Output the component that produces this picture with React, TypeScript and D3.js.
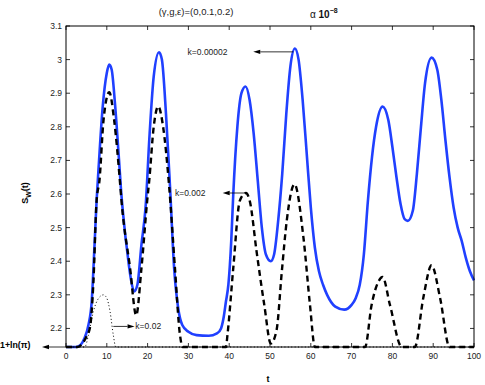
import * as d3 from "d3";

const BASE = 1 + Math.log(Math.PI);

// k = 0.00002 (solid blue)
const seriesSlow: [number, number][] = [
  [0, BASE], [2.5, BASE], [3.5, 2.15], [4.5, 2.17], [5.5, 2.21], [6.3, 2.28],
  [7, 2.45], [7.5, 2.58], [8, 2.68], [9, 2.86], [10, 2.96], [10.6, 2.985],
  [11.2, 2.97], [12, 2.87], [13, 2.7], [13.5, 2.61], [14, 2.54], [14.5, 2.48],
  [15, 2.43], [15.5, 2.38], [16, 2.34], [16.7, 2.31], [17.5, 2.33],
  [18.5, 2.45], [19.5, 2.56], [20.5, 2.78], [21.5, 2.95], [22.8, 3.022],
  [23.5, 3.0], [24.5, 2.84], [25.5, 2.62], [26.5, 2.38], [27.5, 2.26],
  [28.5, 2.21], [30, 2.19], [32, 2.18], [35, 2.178], [37, 2.185], [38, 2.2],
  [38.6, 2.23], [39.2, 2.28], [39.8, 2.33], [40.5, 2.46], [41, 2.6], [42, 2.8],
  [43, 2.9], [44, 2.92], [45, 2.88], [46, 2.78], [47, 2.64], [48, 2.5],
  [49, 2.42], [50.2, 2.4], [51, 2.42], [52, 2.52], [53, 2.66], [54, 2.84],
  [55, 2.98], [56.1, 3.033], [57, 3.0], [58, 2.88], [59, 2.72], [60, 2.56],
  [61, 2.44], [62, 2.37], [63, 2.33], [64, 2.3], [66, 2.265], [68.2, 2.256],
  [70, 2.27], [71, 2.29], [72, 2.33], [73, 2.42], [74, 2.58], [75, 2.71],
  [76, 2.8], [77.6, 2.86], [79, 2.82], [80, 2.74], [81, 2.65], [82, 2.57],
  [83, 2.525], [83.8, 2.52], [85, 2.55], [86, 2.66], [87, 2.8], [88, 2.93],
  [89.6, 3.006], [91, 2.97], [92, 2.88], [93, 2.76], [94, 2.65], [95, 2.56],
  [96, 2.5], [97, 2.46], [98, 2.41], [99, 2.37], [100, 2.343],
];

// k = 0.002 (dashed black)
const seriesMid: [number, number][] = [
  [0, BASE], [2.8, BASE], [4, 2.155], [5, 2.175], [5.9, 2.204], [6.7, 2.333],
  [7.5, 2.58], [8.2, 2.64], [9.2, 2.82], [10.6, 2.903], [11.8, 2.82],
  [13.2, 2.64], [13.6, 2.58], [15.7, 2.38], [17.2, 2.239], [18.5, 2.38],
  [19.9, 2.58], [20.4, 2.64], [21.5, 2.8], [22.6, 2.861], [23.8, 2.8],
  [25.3, 2.62], [26.7, 2.38], [27.9, 2.184], [28.6, BASE], [39.2, BASE],
  [39.6, 2.184], [41, 2.38], [42.6, 2.58], [44.1, 2.603], [45.1, 2.576],
  [46.7, 2.43], [48.6, 2.27], [50.2, 2.155], [51.6, 2.194], [52.9, 2.37],
  [54.1, 2.52], [56, 2.629], [58.2, 2.47], [59.8, 2.27], [61, BASE],
  [73.3, BASE], [74.9, 2.27], [76.6, 2.34], [77.6, 2.353], [79.4, 2.27],
  [82.3, BASE], [85.5, BASE], [87.6, 2.293], [89.6, 2.388], [91.7, 2.29],
  [94, BASE], [100, BASE],
];

// k = 0.02 (dotted black)
const seriesFast: [number, number][] = [
  [0, BASE], [4.6, BASE], [5.5, 2.18], [6.7, 2.25], [8, 2.29], [9.2, 2.3],
  [10, 2.29], [10.8, 2.25], [11.6, 2.18], [12.2, BASE], [100, BASE],
];

const xTicks = [0, 10, 20, 30, 40, 50, 60, 70, 80, 90, 100];
const yTicks = [2.2, 2.3, 2.4, 2.5, 2.6, 2.7, 2.8, 2.9, 3.0, 3.1];

const W = 485;
const H = 385;
const M = { left: 66, right: 11, top: 26, bottom: 38 };
const FONT = "'Liberation Sans', Arial, Helvetica, sans-serif";

function Arrow({ x1, y1, x2, y2 }: { x1: number; y1: number; x2: number; y2: number }) {
  const dir = Math.sign(x2 - x1);
  const head = 7;
  return (
    <g>
      <line x1={x1} y1={y1} x2={x2 - dir * head} y2={y2} stroke="#000" strokeWidth={0.8} />
      <path
        d={`M${x2},${y2} L${x2 - dir * head},${y2 - 2.2} L${x2 - dir * head},${y2 + 2.2} Z`}
        fill="#000"
      />
    </g>
  );
}

export default function App() {
  const x = d3.scaleLinear().domain([0, 100]).range([M.left, W - M.right]);
  const y = d3.scaleLinear().domain([BASE, 3.1]).range([H - M.bottom, M.top]);

  const line = d3
    .line<[number, number]>()
    .x((d) => x(d[0]))
    .y((d) => y(d[1]))
    .curve(d3.curveMonotoneX);

  const x0 = M.left;
  const x1 = W - M.right;
  const y0 = H - M.bottom;
  const y1 = M.top;

  return (
    <svg
      width={W}
      height={H}
      style={{ position: "absolute", left: 0, top: 0, background: "#fff" }}
      fontFamily={FONT}
    >
      <rect x={0} y={0} width={W} height={H} fill="#fff" />

      {/* curves */}
      <path d={line(seriesSlow) ?? ""} fill="none" stroke="#2040ff" strokeWidth={2.6} />
      <path
        d={line(seriesMid) ?? ""}
        fill="none"
        stroke="#000"
        strokeWidth={2.4}
        strokeDasharray="6,4"
      />
      <path
        d={line(seriesFast) ?? ""}
        fill="none"
        stroke="#000"
        strokeWidth={1}
        strokeDasharray="1,2.4"
      />

      {/* frame */}
      <rect x={x0} y={y1} width={x1 - x0} height={y0 - y1} fill="none" stroke="#000" strokeWidth={1} />

      {xTicks.map((t) => (
        <g key={`x${t}`}>
          <line x1={x(t)} x2={x(t)} y1={y0} y2={y0 - 4} stroke="#000" strokeWidth={0.8} />
          <line x1={x(t)} x2={x(t)} y1={y1} y2={y1 + 4} stroke="#000" strokeWidth={0.8} />
          <text x={x(t)} y={y0 + 12} fontSize={8.5} textAnchor="middle" fill="#222">
            {t}
          </text>
        </g>
      ))}

      {yTicks.map((v) => (
        <g key={`y${v}`}>
          <line x1={x0} x2={x0 + 4} y1={y(v)} y2={y(v)} stroke="#000" strokeWidth={0.8} />
          <line x1={x1} x2={x1 - 4} y1={y(v)} y2={y(v)} stroke="#000" strokeWidth={0.8} />
          <text x={x0 - 4} y={y(v) + 3} fontSize={8.5} textAnchor="end" fill="#222">
            {String(+v.toFixed(1))}
          </text>
        </g>
      ))}

      {/* axis titles */}
      <text x={268} y={382} fontSize={9} fontWeight="bold" textAnchor="middle">
        t
      </text>
      <text
        transform={`translate(28,193) rotate(-90)`}
        fontSize={9}
        fontWeight="bold"
        textAnchor="middle"
      >
        S<tspan fontSize={7} dy={2.5}>W</tspan>
        <tspan dy={-2.5}>(t)</tspan>
      </text>

      {/* titles */}
      <text x={196} y={15} fontSize={9.5} textAnchor="middle" fill="#222">
        (γ,g,ε)=(0,0.1,0.2)
      </text>
      <text x={310} y={18} fontSize={10} fill="#111">
        <tspan>α </tspan>
        <tspan fontWeight="bold">10</tspan>
        <tspan fontWeight="bold" fontSize={7} dy={-5}>
          −8
        </tspan>
      </text>

      {/* annotations */}
      <text x={x(29.8)} y={y(3.023) + 3} fontSize={8.5} fill="#222">
        k=0.00002
      </text>
      <Arrow x1={x(55.7)} y1={y(3.023)} x2={x(45.9)} y2={y(3.023)} />

      <text x={x(26.7)} y={y(2.603) + 3} fontSize={8.5} fill="#222">
        k=0.002
      </text>
      <Arrow x1={x(44.1)} y1={y(2.603)} x2={x(38.4)} y2={y(2.603)} />

      <Arrow x1={x(11.6)} y1={y(2.206)} x2={x(16.8)} y2={y(2.206)} />
      <text x={x(17)} y={y(2.206) + 3} fontSize={8.5} fill="#222">
        k=0.02
      </text>

      <Arrow x1={x(0)} y1={y(BASE)} x2={42} y2={y(BASE)} />
      <text x={0} y={y(BASE) + 1} fontSize={8.8} fontWeight="bold">
        1+ln(π)
      </text>
    </svg>
  );
}
